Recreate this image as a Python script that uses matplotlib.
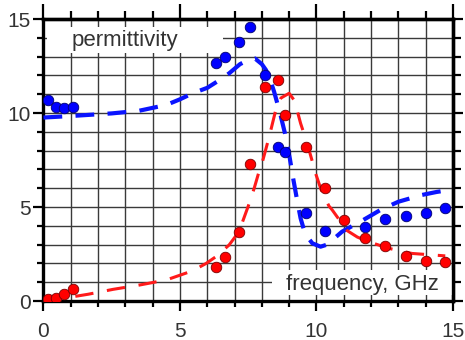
import matplotlib
matplotlib.use("Agg")
import matplotlib.pyplot as plt
from matplotlib.ticker import MultipleLocator
from matplotlib.patches import Rectangle

plt.rcParams['font.family'] = ['Liberation Sans', 'DejaVu Sans']

# measured points (frequency in GHz)
freq_re = [0.18, 0.47, 0.76, 1.07, 6.32, 6.66, 7.17, 7.55, 8.12, 8.59, 8.85,
           9.62, 10.3, 11.77, 12.53, 13.29, 14.0, 14.71]
eps_re = [10.69, 10.34, 10.28, 10.30, 12.64, 12.96, 13.76, 14.55, 12.02, 8.21, 7.91,
          4.66, 3.72, 3.92, 4.36, 4.54, 4.70, 4.96]

freq_im = [0.18, 0.47, 0.76, 1.07, 6.32, 6.66, 7.17, 7.55, 8.12, 8.59, 8.85,
           9.62, 10.3, 11.0, 11.77, 12.53, 13.29, 14.0, 14.71]
eps_im = [0.09, 0.14, 0.37, 0.64, 1.83, 2.32, 3.69, 7.30, 11.40, 11.76, 9.89,
          8.17, 5.99, 4.31, 3.37, 2.94, 2.41, 2.14, 2.09]

# model curves
fit_re_x = [0.0, 1.0, 2.5, 3.5, 4.5, 5.0, 5.5, 6.0, 6.5, 6.8, 7.2, 7.5, 7.75, 8.0,
            8.15, 8.3, 8.45, 8.67, 8.85, 9.0, 9.15, 9.3, 9.42, 9.54, 9.7, 9.85,
            10.15, 10.35, 10.58, 10.94, 11.3, 11.61, 12.0, 12.34, 13.0, 13.86,
            14.4, 14.84]
fit_re_y = [9.76, 9.84, 9.98, 10.12, 10.43, 10.73, 11.07, 11.34, 11.8, 12.11, 12.6,
            12.82, 12.9, 12.6, 12.29, 11.8, 11.13, 9.98, 8.9, 7.8, 6.5, 5.3, 4.4,
            3.8, 3.35, 3.07, 2.89, 2.98, 3.24, 3.69, 3.98, 4.22, 4.55, 4.84, 5.28,
            5.64, 5.8, 5.9]

fit_im_x = [0.0, 0.5, 1.09, 1.64, 2.55, 3.52, 4.5, 5.47, 5.96, 6.32, 6.8, 7.17,
            7.29, 7.54, 7.72, 7.9, 8.02, 8.27, 8.51, 8.7, 9.0, 9.2, 9.42, 9.66,
            9.99, 10.2, 10.46, 10.58, 11.12, 11.5, 11.92, 12.65, 13.5, 14.72]
fit_im_y = [0.05, 0.12, 0.23, 0.36, 0.62, 0.85, 1.12, 1.61, 2.0, 2.36, 2.98, 3.7,
            4.2, 5.2, 6.0, 6.9, 7.4, 8.74, 10.16, 10.8, 11.05, 10.65, 9.45, 8.39,
            6.7, 5.8, 5.05, 4.84, 3.75, 3.4, 3.15, 2.8, 2.53, 2.4]

ticks = [0, 5, 10, 15]

fig = plt.figure(figsize=(4.65, 3.4), dpi=100)
ax = fig.add_axes([0.0935, 0.1147, 0.8805, 0.8293])
ax.set_xlim(0, 15)
ax.set_ylim(0, 15)

ax.xaxis.set_major_locator(MultipleLocator(5))
ax.xaxis.set_minor_locator(MultipleLocator(1))
ax.yaxis.set_major_locator(MultipleLocator(5))
ax.yaxis.set_minor_locator(MultipleLocator(1))
ax.set_xticks(ticks)
ax.set_yticks(ticks)
ax.grid(which='both', color='#3a3a3a', linewidth=1.0, zorder=0)
ax.set_axisbelow(True)

for sp in ax.spines.values():
    sp.set_linewidth(2.4)
    sp.set_color('black')

ax.tick_params(which='major', direction='out', length=7, width=1.6,
               labelsize=15, labelcolor='#333333')
ax.tick_params(which='minor', direction='out', length=4, width=1.6)
ax.tick_params(axis='x', which='major', pad=8)
ax.tick_params(axis='y', which='major', pad=2)

top = ax.secondary_xaxis('top')
top.xaxis.set_major_locator(MultipleLocator(5))
top.xaxis.set_minor_locator(MultipleLocator(1))
top.tick_params(which='major', direction='out', length=11, width=1.6, labeltop=False)
top.tick_params(which='minor', direction='out', length=6, width=1.6)
top.spines['top'].set_linewidth(2.4)

right = ax.secondary_yaxis('right')
right.yaxis.set_major_locator(MultipleLocator(5))
right.yaxis.set_minor_locator(MultipleLocator(1))
right.tick_params(which='major', direction='out', length=7, width=1.6, labelright=False)
right.tick_params(which='minor', direction='out', length=6, width=1.6)
right.spines['right'].set_linewidth(2.4)

# label panels
ax.add_patch(Rectangle((0.13, 13.2), 6.45, 1.37, facecolor='white',
                       edgecolor='none', zorder=1))
ax.text(1.03, 13.88, 'permittivity', fontsize=16, color='#333333',
        ha='left', va='center', zorder=2)
ax.add_patch(Rectangle((8.38, 0.32), 6.62, 1.33, facecolor='white',
                       edgecolor='none', zorder=1))
ax.text(8.9, 0.9, 'frequency, GHz', fontsize=16, color='#333333',
        ha='left', va='center', zorder=2)

ax.plot(fit_re_x, fit_re_y, color='#0a14ff', linewidth=3.0,
        dashes=(4.5, 3.2), zorder=3)
ax.plot(fit_im_x, fit_im_y, color='#ff1a1a', linewidth=2.2,
        dashes=(6, 4.5), zorder=3)

ax.plot(freq_re, eps_re, 'o', color='#0000ff', markersize=7.6,
        markeredgecolor='#00006e', markeredgewidth=0.6, zorder=4)
ax.plot(freq_im, eps_im, 'o', color='#ff0000', markersize=7.6,
        markeredgecolor='#7a0000', markeredgewidth=0.6, zorder=5)

fig.savefig('out.png', dpi=100)
